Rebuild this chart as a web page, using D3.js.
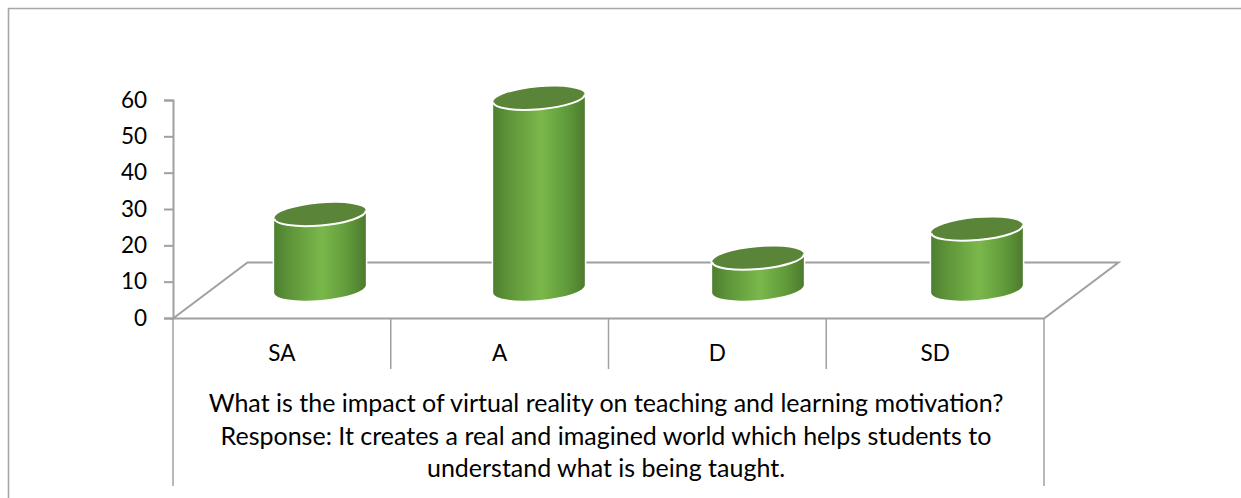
<!DOCTYPE html>
<html>
<head>
<meta charset="utf-8">
<title>Virtual reality motivation</title>
<style>
  html, body { margin: 0; padding: 0; background: #fff; }
  svg { display: block; }
  text { font-family: Lato, "Open Sans", sans-serif; fill: #000; }
</style>
</head>
<body>
<svg width="1241" height="498"></svg>
<script src="https://d3js.org/d3.v7.min.js"></script>
<script>
const categories = ["SA", "A", "D", "SD"];
const values = [20.5, 52.5, 8.5, 16.5];
const yTicks = [0, 10, 20, 30, 40, 50, 60];
const titleLines = [
  "What is the impact of virtual reality on teaching and learning motivation?",
  "Response: It creates a real and imagined world which helps students to",
  "understand what is being taught."
];
const titleBaselines = [412, 445, 477];

const width = 1241, height = 498;
const axisColor = "#a0a0a0";

const svg = d3.select("svg");

const x = d3.scaleBand().domain(categories).range([173, 1044]);
// the cylinders stand further back, the perspective spreads them a little
const xBar = d3.scaleBand().domain(categories).range([210.5, 1086.5]);
const y = d3.scaleLinear().domain([0, 60]).range([318, 100]);

// depth of the 3d floor
const depthX = 74.5, depthY = -56;

// outer frame, only left and top are visible
svg.append("path")
    .attr("d", `M8.5,${height}V8.5H${width}`)
    .attr("fill", "none")
    .attr("stroke", "#a6a6a6")
    .attr("stroke-width", 1.6);

const defs = svg.append("defs");
const grad = defs.append("linearGradient").attr("id", "side");
[[0, "#4d7f2f"], [0.15, "#5c9238"], [0.52, "#7ab84b"], [0.8, "#609b3b"], [1, "#4e7a2e"]].forEach(s => {
  grad.append("stop").attr("offset", s[0]).attr("stop-color", s[1]);
});

// floor
const y0 = y(0) + 0.5;
svg.append("path")
    .attr("d", `M${x.range()[0]},${y0}L${x.range()[0] + depthX},${y0 + depthY}H${x.range()[1] + depthX}L${x.range()[1]},${y0}Z`)
    .attr("fill", "none")
    .attr("stroke", axisColor)
    .attr("stroke-width", 2);

// y axis
const yAxis = d3.axisLeft(y).tickValues(yTicks).tickSize(9).tickPadding(17);
const gy = svg.append("g").attr("transform", "translate(173,0)").call(yAxis);
gy.selectAll("path, line").attr("stroke", axisColor).attr("stroke-width", 2);
gy.selectAll("text").attr("font-size", 22.5).attr("font-family", null);

// category separators
const seps = categories.map(c => x(c)).concat([x.range()[1]]);
svg.append("g").selectAll("line")
  .data(seps)
  .join("line")
    .attr("x1", d => d).attr("x2", d => d)
    .attr("y1", y0)
    .attr("y2", (d, i) => (i === 0 || i === seps.length - 1) ? 486 : 369)
    .attr("stroke", axisColor)
    .attr("stroke-width", 1.5);

// category labels
svg.append("g").selectAll("text")
  .data(categories)
  .join("text")
    .attr("x", d => x(d) + x.bandwidth() / 2)
    .attr("y", 361)
    .attr("text-anchor", "middle")
    .attr("font-size", 22.5)
    .text(d => d);

// title below the axis
svg.append("g").selectAll("text")
  .data(titleLines)
  .join("text")
    .attr("x", 606)
    .attr("y", (d, i) => titleBaselines[i])
    .attr("text-anchor", "middle")
    .attr("font-size", 25)
    .text(d => d);

// cylinders sit halfway back on the floor
const rx = 46, ry = 11, tilt = -5;
const dx = rx * Math.cos(tilt * Math.PI / 180);
const dy = rx * Math.sin(tilt * Math.PI / 180);

const bars = svg.append("g").selectAll("g")
  .data(categories.map((c, i) => ({c, v: values[i]})))
  .join("g")
    .attr("transform", d => `translate(${xBar(d.c) + xBar.bandwidth() / 2},${depthY / 2 - 1})`);

// white halo, cuts the floor line behind the cylinder
bars.append("path")
    .attr("d", d => body(d))
    .attr("fill", "url(#side)")
    .attr("stroke", "#fff")
    .attr("stroke-width", 3)
    .attr("paint-order", "stroke");

bars.append("ellipse")
    .attr("cy", d => y(d.v))
    .attr("rx", rx)
    .attr("ry", ry)
    .attr("transform", d => `rotate(${tilt} 0 ${y(d.v)})`)
    .attr("fill", "#5a8538");

// white rim on the front of the top
bars.append("path")
    .attr("d", d => `M${-dx},${y(d.v) - dy}A${rx},${ry} ${tilt} 0 0 ${dx},${y(d.v) + dy}`)
    .attr("fill", "none")
    .attr("stroke", "#fff")
    .attr("stroke-width", 2);

function body(d) {
  const t = y(d.v), b = y(0);
  return `M${-dx},${t - dy}L${dx},${t + dy}L${dx},${b + dy}A${rx},${ry} ${tilt} 0 1 ${-dx},${b - dy}Z`;
}
</script>
</body>
</html>
